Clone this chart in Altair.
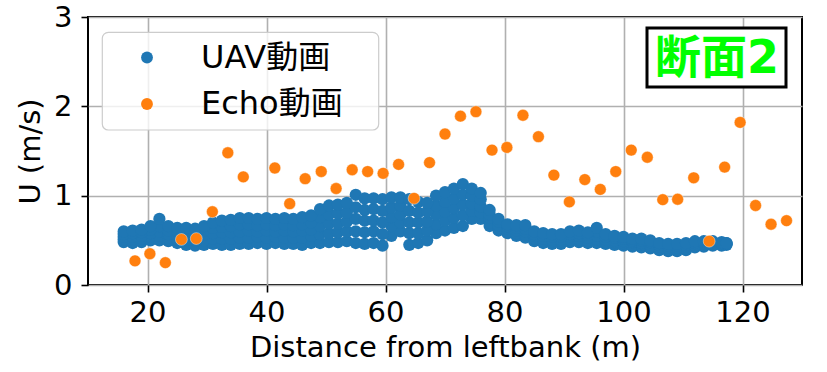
import altair as alt
import pandas as pd

# ---- UAV (dense band) : columns along the section, 5 read levels each ----
uav_x = [16, 17.5, 19, 20.5, 22, 23.5, 25, 26.5, 28, 29.5,
         31, 32.5, 34, 35.5, 37, 38.5, 40, 41.5, 43, 44.5,
         46, 47.5, 49, 50.5, 52, 53.5, 55, 56.5, 58, 59.5,
         61, 62.5, 64, 65.5, 67, 68.5, 70, 71.5, 73, 74.5,
         76, 77.5, 79, 80.5, 82, 83.5, 85, 86.5, 88, 89.5,
         91, 92.5, 94, 95.5, 97, 98.5, 100, 101.5, 103, 104.5,
         106, 107.5, 109, 110.5, 112, 113.5, 115, 116.5, 117.3]
uav_lo = [.48, .47, .48, .50, .50, .49, .47, .45, .44, .45,
          .46, .45, .45, .46, .46, .47, .46, .47, .46, .46,
          .45, .47, .47, .48, .48, .49, .47, .46, .47, .44,
          .55, .60, .45, .47, .50, .58, .61, .64, .66, .74,
          .74, .66, .61, .58, .55, .53, .49, .47, .46, .46,
          .48, .48, .47, .47, .46, .45, .44, .43, .42, .41,
          .39, .38, .38, .39, .42, .43, .44, .44, .45]
uav_q1 = [.51, .51, .52, .54, .55, .53, .51, .50, .49, .50,
          .52, .52, .52, .53, .53, .54, .53, .54, .53, .53,
          .53, .55, .57, .58, .59, .60, .60, .59, .60, .57,
          .66, .70, .58, .58, .61, .68, .72, .75, .78, .83,
          .81, .70, .64, .60, .58, .56, .52, .50, .49, .49,
          .51, .51, .50, .51, .49, .48, .47, .45, .45, .43,
          .41, .40, .40, .41, .44, .44, .45, .45, .46]
uav_mid = [.54, .54, .55, .58, .60, .57, .55, .55, .53, .56,
           .58, .59, .59, .60, .61, .60, .61, .60, .61, .60,
           .61, .62, .66, .69, .69, .71, .74, .72, .72, .70,
           .76, .79, .70, .70, .71, .79, .82, .86, .90, .91,
           .88, .75, .67, .63, .61, .60, .55, .52, .51, .51,
           .54, .55, .53, .55, .51, .50, .49, .48, .47, .45,
           .43, .42, .42, .43, .45, .46, .46, .46, .46]
uav_q3 = [.57, .58, .59, .62, .66, .61, .60, .59, .58, .61,
          .64, .65, .66, .68, .68, .67, .68, .67, .68, .67,
          .68, .70, .76, .79, .80, .81, .87, .84, .85, .83,
          .87, .89, .83, .81, .82, .89, .93, .97, 1.01, 1.00,
          .96, .79, .71, .66, .64, .63, .57, .55, .54, .54,
          .57, .58, .56, .60, .54, .53, .52, .50, .50, .48,
          .45, .44, .44, .45, .47, .47, .48, .47, .47]
uav_hi = [.60, .61, .62, .66, .74, .66, .64, .64, .63, .66,
          .70, .72, .73, .75, .75, .74, .75, .74, .75, .74,
          .76, .78, .85, .89, .90, .92, 1.01, .97, .97, .96,
          .98, .98, .96, .93, .92, 1.00, 1.04, 1.08, 1.13, 1.08,
          1.03, .84, .74, .68, .67, .67, .60, .58, .57, .57,
          .60, .61, .59, .64, .57, .55, .54, .52, .52, .50,
          .47, .46, .46, .47, .49, .49, .49, .48, .47]

# ---- Echo sounder points ----
echo_x = [17.9, 20.4, 23.0, 25.7, 28.2, 30.9, 33.5, 36.1, 41.4, 43.9,
          46.5, 49.2, 51.7, 54.4, 57.0, 59.6, 62.2, 64.8, 67.4, 70.0,
          72.6, 75.2, 77.9, 80.4, 83.1, 85.7, 88.3, 90.9, 93.5, 96.1,
          98.7, 101.3, 104.0, 106.6, 109.1, 111.8, 114.4, 117.0, 119.6, 122.2,
          124.8, 127.4]
echo_y = [0.27, 0.35, 0.25, 0.51, 0.52, 0.82, 1.48, 1.21, 1.31, 0.91,
          1.19, 1.27, 1.08, 1.29, 1.27, 1.25, 1.35, 0.97, 1.37, 1.69,
          1.89, 1.94, 1.51, 1.54, 1.90, 1.66, 1.23, 0.93, 1.18, 1.07,
          1.27, 1.51, 1.43, 0.955, 0.96, 1.20, 0.49, 1.32, 1.82, 0.89,
          0.68, 0.72]

series_names = ["UAV動画", "Echo動画"]
series_colors = ["#1f77b4", "#ff7f0e"]

rows = []
for level in (uav_lo, uav_q1, uav_mid, uav_q3, uav_hi):
    for x, y in zip(uav_x, level):
        rows.append({"dist": x, "u": y, "src": series_names[0]})
for x, y in zip(echo_x, echo_y):
    rows.append({"dist": x, "u": y, "src": series_names[1]})
df = pd.DataFrame(rows)

FONT = "DejaVu Sans, Noto Sans CJK JP"

color = alt.Color(
    "src:N",
    scale=alt.Scale(domain=series_names, range=series_colors),
    legend=alt.Legend(
        title=None, orient="none", legendX=43, legendY=24.5,
        padding=0, rowPadding=14.5, symbolSize=140, symbolType="circle",
        labelOffset=38, labelFontSize=32, labelFont=FONT,
        labelColor="black", symbolStrokeWidth=0,
    ),
)

xenc = alt.X("dist:Q", scale=alt.Scale(domain=[10, 130], nice=False),
             axis=alt.Axis(values=[20, 40, 60, 80, 100, 120],
                           title="Distance from leftbank (m)"))
yenc = alt.Y("u:Q", scale=alt.Scale(domain=[0, 3], nice=False),
             axis=alt.Axis(values=[0, 1, 2, 3], format="d", title="U (m/s)"))

base = alt.Chart(df)
uav = base.transform_filter(alt.datum.src == series_names[0]).mark_circle(
    size=150, opacity=1, strokeWidth=0
).encode(x=xenc, y=yenc, color=color)
echo = base.transform_filter(alt.datum.src == series_names[1]).mark_circle(
    size=140, opacity=1, stroke="white", strokeWidth=0.8, strokeOpacity=0.5
).encode(x=xenc, y=yenc, color=color)

# legend frame (matplotlib-style rounded, semi-transparent box)
frame_df = pd.DataFrame({"k": ["legend"]})
frame = alt.Chart(frame_df).mark_rect(
    fill="white", fillOpacity=0.8, stroke="#cccccc", strokeWidth=1.2, cornerRadius=6
).encode(x=alt.value(14.3), x2=alt.value(290.7), y=alt.value(15.3), y2=alt.value(113))

label_df = pd.DataFrame({"t": ["断面2"]})
box = alt.Chart(label_df).mark_rect(fill="white", stroke="black", strokeWidth=3).encode(
    x=alt.value(559), x2=alt.value(698), y=alt.value(11), y2=alt.value(70))
txt = alt.Chart(label_df).mark_text(
    font=FONT, fontSize=46, fontWeight="bold", color="#00ff00",
    align="center", baseline="middle").encode(
    text="t:N", x=alt.value(629), y=alt.value(42))

chart = alt.layer(uav, echo, frame, box, txt).properties(
    width=714, height=268,
    autosize=alt.AutoSizeParams(type="none"),
    padding={"left": 88, "top": 17, "right": 25, "bottom": 87},
).configure_view(stroke="black", strokeWidth=2).configure_axis(
    domain=False, grid=True, gridColor="#b0b0b0", gridWidth=1.6,
    tickColor="black", tickWidth=1.6, tickSize=7,
    labelFont=FONT, labelFontSize=29, labelColor="black",
    titleFont=FONT, titleFontSize=29, titleFontWeight="normal", titleColor="black",
).configure_axisX(labelPadding=6, titlePadding=6).configure_axisY(labelPadding=9, titlePadding=8)

chart.save("out.html", embed_options={"renderer": "svg", "actions": False})
